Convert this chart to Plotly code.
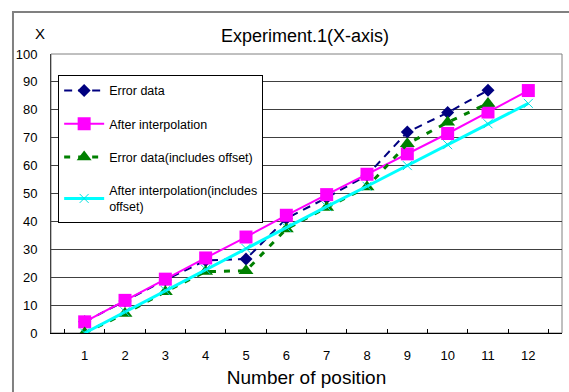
import plotly.graph_objects as go

positions = [str(i) for i in range(1, 13)]
error_data = [4, 11.5, 19, 26, 26.5, 41, 48.5, 56.5, 72, 79, 87]
after_interp = [4, 11.7, 19.3, 26.9, 34.4, 42.2, 49.6, 56.9, 64.2, 71.5, 79.2, 86.9]
error_offset = [0, 7, 14.8, 22, 22.3, 37.3, 45, 52.3, 67.8, 75.5, 82.3]
after_interp_offset = [0, 7.6, 15.2, 22.8, 30.3, 37.9, 45.3, 52.6, 60, 67.5, 75, 82.3]
y_ticks = list(range(0, 101, 10))

font = "Liberation Sans"
fig = go.Figure()
fig.add_trace(go.Scatter(x=positions[:11], y=error_data, name="Error data", mode="lines+markers",
                         line=dict(color="#000080", width=2, dash="8px,6px"),
                         marker=dict(symbol="diamond", size=10, color="#000080"), legendgroup="a"))
fig.add_trace(go.Scatter(x=positions, y=after_interp, name="After interpolation", mode="lines+markers",
                         line=dict(color="#ff00ff", width=2),
                         marker=dict(symbol="square", size=13, color="#ff00ff"), legendgroup="b"))
fig.add_trace(go.Scatter(x=positions[:11], y=error_offset, name="Error data(includes offset)", mode="lines+markers",
                         line=dict(color="#008000", width=3, dash="6px,8px"),
                         marker=dict(symbol="triangle-up", size=13, color="#008000"), legendgroup="c"))
fig.add_trace(go.Scatter(x=positions, y=after_interp_offset, name="After interpolation(includes<br>offset)", mode="lines+markers",
                         line=dict(color="#00ffff", width=3),
                         marker=dict(symbol="x-thin", size=9, line=dict(color="#00e0e0", width=1)), legendgroup="d"))

fig.update_layout(
    width=569, height=392,
    margin=dict(l=51, r=7, t=54, b=59),
    paper_bgcolor="white", plot_bgcolor="white",
    font=dict(family=font, color="black", size=12),
    showlegend=True,
    legend=dict(x=0.014, y=0.925, xanchor="left", yanchor="top",
                bordercolor="black", borderwidth=1, bgcolor="white",
                font=dict(size=12.5, family=font), tracegroupgap=14,
                traceorder="grouped", itemwidth=40),
    xaxis=dict(type="category", tickson="boundaries", ticks="inside", ticklen=4,
               tickcolor="black", showline=True, linecolor="black", mirror=False,
               showgrid=False, tickfont=dict(size=13), ticklabelstandoff=10,
               title=dict(text="Number of position", font=dict(size=19), standoff=9)),
    yaxis=dict(range=[0, 100], tickvals=y_ticks, showline=True, linecolor="#404040",
               showgrid=True, gridcolor="#404040", gridwidth=1, zeroline=False,
               tickfont=dict(size=13), ticks="", ticklabelstandoff=10),
    shapes=[
        dict(type="rect", xref="paper", yref="paper", x0=0, x1=1, y0=0, y1=1,
             line=dict(color="#808080", width=1), layer="below"),
        dict(type="rect", xref="paper", yref="paper", x0=-0.0744, x1=1.03, y0=-0.3, y1=1.1505,
             line=dict(color="#808080", width=2), fillcolor="rgba(0,0,0,0)"),
    ],
    annotations=[
        dict(text="Experiment.1(X-axis)", xref="paper", yref="paper", x=0.497, y=1.065,
             showarrow=False, font=dict(size=18), yanchor="middle"),
        dict(text="X", xref="paper", yref="paper", x=-0.035, y=1.075,
             showarrow=False, font=dict(size=15), yanchor="middle"),
    ],
)
fig.write_html("out.html")
